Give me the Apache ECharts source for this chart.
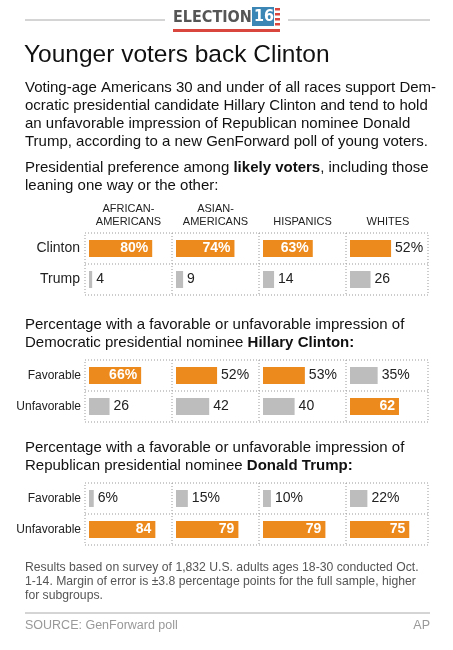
<!DOCTYPE html>
<html><head><meta charset="utf-8">
<script src="https://cdn.jsdelivr.net/npm/echarts@6/dist/echarts.min.js"></script>
<style>html,body{margin:0;padding:0;background:#fff}#c{width:453px;height:650px}</style>
</head><body><div id="c"></div>
<script>
const groups = ['AFRICAN-\nAMERICANS','ASIAN-\nAMERICANS','HISPANICS','WHITES'];
const rows1 = ['Clinton','Trump'];
const clintonPref = [80,74,63,52];
const trumpPref = [4,9,14,26];
const rows2 = ['Favorable','Unfavorable'];
const clintonFav = [66,52,53,35];
const clintonUnfav = [26,42,40,62];
const trumpFav = [6,15,10,22];
const trumpUnfav = [84,79,79,75];

const ORANGE='#ec8a1d', GREY='#bdbdbd', TXT='#222';
const colX=[85,172,259,346], colW=[87,87,87,84];
const panels=[
  {top:233, rows:rows1, data:[clintonPref,trumpPref]},
  {top:360, rows:rows2, data:[clintonFav,clintonUnfav]},
  {top:483, rows:rows2, data:[trumpFav,trumpUnfav]}
];
const PH=62;
const grids=[],xAxes=[],yAxes=[],series=[],graphic=[];
const F='Liberation Sans, Arial, sans-serif';
panels.forEach((p,pi)=>{
  graphic.push({type:'rect',shape:{x:colX[0],y:p.top,width:343,height:PH},style:{fill:'none',stroke:'#999',lineWidth:1,lineDash:[1,2]}});
  graphic.push({type:'line',shape:{x1:colX[0],y1:p.top+PH/2,x2:colX[0]+343,y2:p.top+PH/2},style:{stroke:'#999',lineWidth:1,lineDash:[1,2]}});
  for(let c=1;c<4;c++) graphic.push({type:'line',shape:{x1:colX[c],y1:p.top,x2:colX[c],y2:p.top+PH},style:{stroke:'#999',lineWidth:1,lineDash:[1,2]}});
  for(let c=0;c<4;c++){
    const gi=grids.length;
    grids.push({left:colX[c]+4,top:p.top,width:79,height:PH});
    xAxes.push({type:'value',gridIndex:gi,min:0,max:100,show:false});
    yAxes.push({type:'category',gridIndex:gi,inverse:true,data:p.rows,axisLine:{show:false},axisTick:{show:false},
      axisLabel:{show:c===0,color:TXT,fontFamily:F,fontSize:pi===0?14:12,margin:pi===0?9:8}});
    const vals=[p.data[0][c],p.data[1][c]];
    series.push({type:'bar',xAxisIndex:gi,yAxisIndex:gi,barWidth:17,silent:true,
      data:vals.map((v,ri)=>{
        const maj=v>50, inside=v>=60, pct=ri===0;
        return {value:v,itemStyle:{color:maj?ORANGE:GREY},
          label:{show:true,position:inside?'insideRight':'right',distance:4,
            color:inside?'#fff':TXT,fontWeight:inside?'bold':'normal',fontFamily:F,fontSize:14,
            formatter:v+(pct?'%':'')}};
      })});
  }
});
// header
graphic.push({type:'line',shape:{x1:25,y1:20,x2:165,y2:20},style:{stroke:'#aaa',lineWidth:1}});
graphic.push({type:'line',shape:{x1:288,y1:20,x2:430,y2:20},style:{stroke:'#aaa',lineWidth:1}});
graphic.push({type:'text',x:173,y:10,style:{text:'ELECTION',font:'bold 16px DejaVu Sans Condensed',fill:'#555'}});
graphic.push({type:'rect',shape:{x:252,y:7,width:22,height:19},style:{fill:'#3b86b5'}});
graphic.push({type:'text',x:254,y:9,style:{text:'16',font:'bold 16px DejaVu Sans Condensed',fill:'#fff'}});
[8,13,18,23].forEach(y=>graphic.push({type:'rect',shape:{x:275,y:y,width:5,height:2.5},style:{fill:'#d9463d'}}));
graphic.push({type:'rect',shape:{x:173,y:29,width:107,height:3},style:{fill:'#d9463d'}});
// title & texts
graphic.push({type:'text',x:24,y:43,style:{text:'Younger voters back Clinton',font:'24.5px '+F,fill:'#111'}});
graphic.push({type:'text',x:25,y:79,style:{text:'Voting-age Americans 30 and under of all races support Dem-\nocratic presidential candidate Hillary Clinton and tend to hold\nan unfavorable impression of Republican nominee Donald\nTrump, according to a new GenForward poll of young voters.',font:'15px '+F,fill:'#111',lineHeight:18}});
graphic.push({type:'text',x:25,y:159,style:{text:'Presidential preference among {b|likely voters}, including those\nleaning one way or the other:',font:'15px '+F,fill:'#111',lineHeight:18,rich:{b:{fontWeight:'bold',fontSize:15,fontFamily:F,fill:'#111'}}}});
groups.forEach((g,i)=>{
  graphic.push({type:'text',x:colX[i]+colW[i]/2,y:228,style:{text:g,font:'11px '+F,fill:'#222',align:'center',verticalAlign:'bottom',lineHeight:13}});
});
graphic.push({type:'text',x:25,y:316,style:{text:'Percentage with a favorable or unfavorable impression of\nDemocratic presidential nominee {b|Hillary Clinton:}',font:'15px '+F,fill:'#111',lineHeight:18,rich:{b:{fontWeight:'bold',fontSize:15,fontFamily:F}}}});
graphic.push({type:'text',x:25,y:439,style:{text:'Percentage with a favorable or unfavorable impression of\nRepublican presidential nominee {b|Donald Trump:}',font:'15px '+F,fill:'#111',lineHeight:18,rich:{b:{fontWeight:'bold',fontSize:15,fontFamily:F}}}});
graphic.push({type:'text',x:25,y:561,style:{text:'Results based on survey of 1,832 U.S. adults ages 18-30 conducted Oct.\n1-14. Margin of error is \u00b13.8 percentage points for the full sample, higher\nfor subgroups.',font:'12.2px '+F,fill:'#555',lineHeight:14}});
graphic.push({type:'line',shape:{x1:25,y1:613,x2:430,y2:613},style:{stroke:'#aaa',lineWidth:1}});
graphic.push({type:'text',x:25,y:619,style:{text:'SOURCE: GenForward poll',font:'12.5px '+F,fill:'#999'}});
graphic.push({type:'text',x:430,y:619,style:{text:'AP',font:'12.5px '+F,fill:'#999',align:'right'}});

const chart=echarts.init(document.getElementById('c'));
chart.setOption({animation:false,grid:grids,xAxis:xAxes,yAxis:yAxes,series:series,graphic:graphic});
</script></body></html>
